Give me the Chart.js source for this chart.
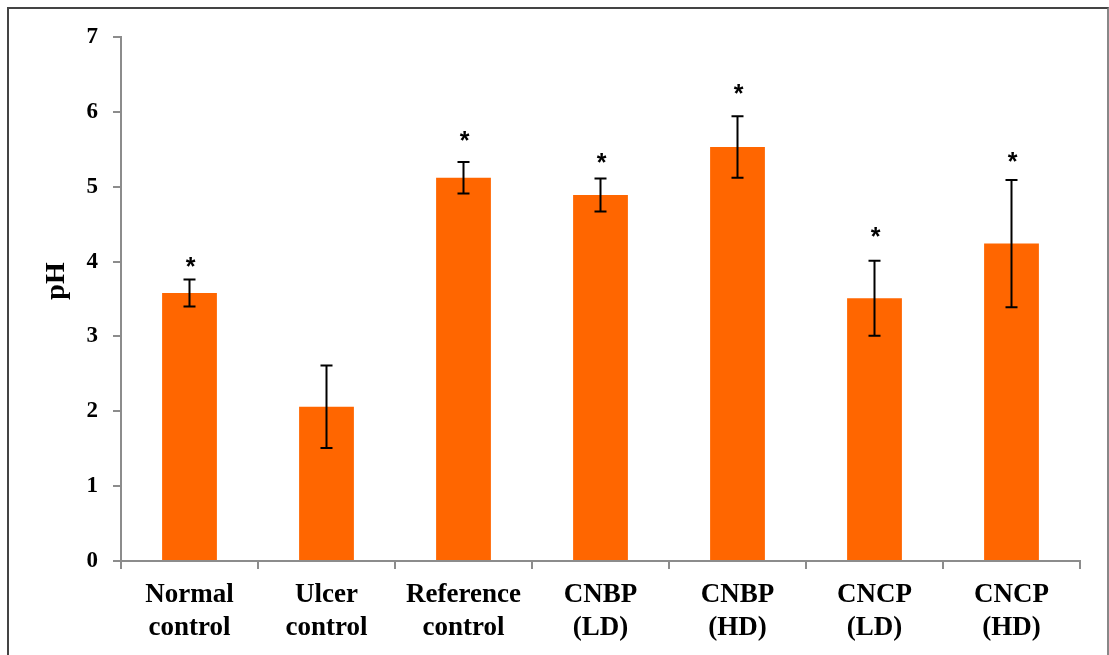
<!DOCTYPE html>
<html lang="en">
<head>
  <meta charset="UTF-8" />
  <title>pH by group</title>
  <script src="https://cdn.jsdelivr.net/npm/chart.js"></script>
  <style>
    body {
      margin: 0;
      background: #fff;
    }
    .frame {
      position: absolute;
      left: 7px;
      top: 7px;
      width: 1098px;
      height: 700px;
      border: 2px solid #444;
      border-right-color: #888;
    }
    .chart-wrap {
      position: absolute;
      left: 0;
      top: 0;
      width: 1109px;
      height: 655px;
    }
  </style>
</head>
<body>

<div class="frame"></div>
<div class="chart-wrap">
  <canvas id="phChart" role="img" aria-label="pH by treatment group"></canvas>
</div>

<script>
  const groups = [
    ['Normal', 'control'],
    ['Ulcer', 'control'],
    ['Reference', 'control'],
    ['CNBP', '(LD)'],
    ['CNBP', '(HD)'],
    ['CNCP', '(LD)'],
    ['CNCP', '(HD)']
  ];
  const phMean = [3.58, 2.06, 5.12, 4.89, 5.53, 3.51, 4.24];
  const phErr = [0.18, 0.55, 0.21, 0.22, 0.41, 0.50, 0.85];
  // level (pH units) where the significance star sits, null = no star
  const starLevel = [4.01, null, 5.70, 5.40, 6.32, 4.41, 5.42];
  const yTicks = [0, 1, 2, 3, 4, 5, 6, 7];

  const serif = "'Liberation Serif', 'Times New Roman', serif";

  // error bars + stars
  const errorBars = {
    id: 'errorBars',
    afterDatasetsDraw(chart) {
      const ctx = chart.ctx;
      const y = chart.scales.y;
      const bars = chart.getDatasetMeta(0).data;
      ctx.save();
      ctx.strokeStyle = '#000';
      ctx.lineWidth = 2;
      bars.forEach((bar, i) => {
        const top = y.getPixelForValue(phMean[i] + phErr[i]);
        const bot = y.getPixelForValue(phMean[i] - phErr[i]);
        ctx.beginPath();
        ctx.moveTo(bar.x, top);
        ctx.lineTo(bar.x, bot);
        ctx.moveTo(bar.x - 6, top);
        ctx.lineTo(bar.x + 6, top);
        ctx.moveTo(bar.x - 6, bot);
        ctx.lineTo(bar.x + 6, bot);
        ctx.stroke();
        if (starLevel[i] !== null) {
          ctx.fillStyle = '#000';
          ctx.font = "bold 25px 'Liberation Sans', Arial, sans-serif";
          ctx.textAlign = 'center';
          ctx.textBaseline = 'alphabetic';
          ctx.fillText('*', bar.x + 1, y.getPixelForValue(starLevel[i]) + 14.5);
        }
      });
      ctx.restore();
    }
  };

  // rotated y title, sits a bit above the middle like the original
  const yTitle = {
    id: 'yTitle',
    afterDraw(chart) {
      const ctx = chart.ctx;
      const area = chart.chartArea;
      ctx.save();
      ctx.translate(57, (area.top + area.bottom) / 2 - 18);
      ctx.rotate(-Math.PI / 2);
      ctx.fillStyle = '#000';
      ctx.font = 'bold 28px ' + serif;
      ctx.textAlign = 'center';
      ctx.textBaseline = 'middle';
      ctx.fillText('pH', 0, 0);
      ctx.restore();
    }
  };

  new Chart(document.getElementById('phChart'), {
    type: 'bar',
    data: {
      labels: groups,
      datasets: [{
        data: phMean,
        backgroundColor: '#ff6600',
        borderWidth: 0,
        barPercentage: 0.4,
        categoryPercentage: 1.0
      }]
    },
    options: {
      responsive: true,
      maintainAspectRatio: false,
      animation: false,
      layout: { padding: { left: 0, right: 29, top: 37, bottom: 0 } },
      plugins: {
        legend: { display: false },
        tooltip: { enabled: false }
      },
      scales: {
        x: {
          afterFit: (s) => { s.height = 94; },
          grid: {
            offset: true,
            drawOnChartArea: false,
            drawTicks: true,
            tickLength: 8,
            color: '#8c8c8c',
            lineWidth: 2
          },
          border: { display: true, color: '#8c8c8c', width: 2 },
          ticks: {
            color: '#000',
            padding: 10,
            maxRotation: 0,
            autoSkip: false,
            font: { family: serif, size: 27, weight: 'bold', lineHeight: 1.2 }
          }
        },
        y: {
          min: 0,
          max: 7,
          afterFit: (s) => { s.width = 121; },
          afterBuildTicks: (s) => { s.ticks = yTicks.map(v => ({ value: v })); },
          grid: {
            drawOnChartArea: false,
            drawTicks: true,
            tickLength: 8,
            color: '#8c8c8c',
            lineWidth: 2
          },
          border: { display: true, color: '#8c8c8c', width: 2 },
          ticks: {
            color: '#000',
            padding: 15,
            font: { family: serif, size: 23, weight: 'bold' }
          }
        }
      }
    },
    plugins: [errorBars, yTitle]
  });
</script>

</body>
</html>
